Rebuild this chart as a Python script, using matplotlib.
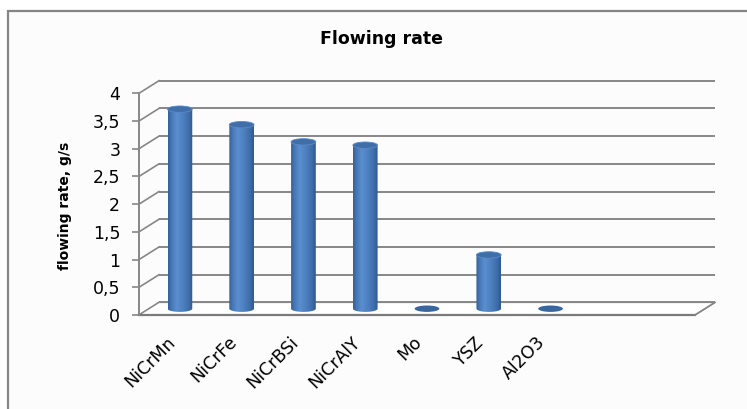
import matplotlib
matplotlib.use("Agg")
import matplotlib.pyplot as plt
import matplotlib.patches as patches
import matplotlib.transforms as mtransforms
from matplotlib.path import Path
from matplotlib.colors import LinearSegmentedColormap
import numpy as np

# powder flowing rate per material, g/s (two empty slots at the end)
materials = ["NiCrMn", "NiCrFe", "NiCrBSi", "NiCrAlY", "Mo", "YSZ", "Al2O3", "", ""]
flow_rate = [3.6, 3.32, 3.01, 2.95, 0, 0.97, 0]
y_ticks = [0, 0.5, 1, 1.5, 2, 2.5, 3, 3.5, 4]
y_tick_labels = ["0", "0,5", "1", "1,5", "2", "2,5", "3", "3,5", "4"]

W, H, DPI = 747, 409, 100
GRID = "#878787"

fig = plt.figure(figsize=(W / DPI, H / DPI), dpi=DPI)
fig.patch.set_facecolor("white")

# chart frame (runs off the right and bottom edges)
frame = patches.Rectangle((7.5 / W, -0.05), 1.2, 1 - 10.5 / H + 0.05,
                          transform=fig.transFigure, facecolor="#FCFCFC",
                          edgecolor="#858585", linewidth=1.6, zorder=0)
fig.add_artist(frame)

# axes = front plane of the 3d box
ax = fig.add_axes([139 / W, (H - 315) / H, 556 / W, (315 - 93.3) / H])
ax.patch.set_visible(False)
n_slots = len(materials)
ax.set_xlim(0, n_slots)
ax.set_ylim(0, 4)

# depth of the box in data units (20 px right, 12.6 px up)
px_x = 556 / n_slots
px_y = (315 - 93.3) / 4
ddx = 20 / px_x
ddy = 12.6 / px_y

# back wall grid and side wall diagonals
for v in y_ticks:
    ax.plot([ddx, n_slots + ddx], [v + ddy, v + ddy], color=GRID, lw=1.4,
            clip_on=False, zorder=1, solid_capstyle="butt")
    ax.plot([0, ddx], [v, v + ddy], color=GRID, lw=1.2, clip_on=False, zorder=1)

# floor
floor = patches.Polygon([(0, 0), (n_slots, 0), (n_slots + ddx, ddy), (ddx, ddy)],
                        closed=True, facecolor="white", edgecolor=GRID, lw=1.0,
                        clip_on=False, zorder=1.5)
ax.add_patch(floor)
ax.plot([0, n_slots], [0, 0], color="#7A7A7A", lw=1.6, clip_on=False, zorder=2)
ax.plot([n_slots, n_slots + ddx], [0, ddy], color=GRID, lw=1.2, clip_on=False, zorder=2)

# cylinder shading across the width
cyl_cmap = LinearSegmentedColormap.from_list(
    "cyl", [(0.0, "#34609A"), (0.15, "#4878B6"), (0.35, "#5A8ED0"),
            (0.6, "#4E80BF"), (0.85, "#3E6CA8"), (1.0, "#2F5990")])
grad = np.linspace(0, 1, 256).reshape(1, -1)

r = 0.2                 # half width in data units
ry = 3.2 / px_y         # half height of the end ellipses
yb = ddy / 2            # base sits mid-depth

for i, v in enumerate(flow_rate):
    xc = i + 0.5 + ddx / 2
    if v > 0:
        t = np.linspace(np.pi, 2 * np.pi, 40)
        verts = [(xc - r, yb + v), (xc - r, yb)]
        verts += list(zip(xc + r * np.cos(t), yb + ry * np.sin(t)))
        verts += [(xc + r, yb + v), (xc - r, yb + v)]
        codes = [Path.MOVETO] + [Path.LINETO] * (len(verts) - 2) + [Path.CLOSEPOLY]
        body = patches.PathPatch(Path(verts, codes), facecolor="none",
                                 edgecolor="none", zorder=3)
        ax.add_patch(body)
        im = ax.imshow(grad, cmap=cyl_cmap, aspect="auto", zorder=3,
                       extent=(xc - r, xc + r, yb - ry, yb + v),
                       interpolation="bilinear")
        im.set_clip_path(body)
        top = patches.Ellipse((xc, yb + v), 2 * r, 2 * ry, facecolor="#3F6EA8",
                              edgecolor="#5B8AC6", lw=0.6, zorder=4)
        ax.add_patch(top)
    else:
        flat = patches.Ellipse((xc, yb), 2 * r, 2 * ry, facecolor="#3A659D",
                               edgecolor="none", zorder=4)
        ax.add_patch(flat)

ax.set_xlim(0, n_slots)
ax.set_ylim(0, 4)

# axes, ticks and labels
for side in ["top", "right", "bottom"]:
    ax.spines[side].set_visible(False)
ax.spines["left"].set_color(GRID)
ax.spines["left"].set_linewidth(1.4)
ax.spines["left"].set_zorder(2)

ax.set_yticks(y_ticks, y_tick_labels)
ax.tick_params(axis="y", direction="out", length=5, width=1.2, color=GRID,
               pad=8.5, labelsize=12.5, labelcolor="black")
ax.set_xticks(np.arange(n_slots) + 0.5, materials, rotation=45, ha="right",
              rotation_mode="anchor")
ax.tick_params(axis="x", length=0, pad=13, labelsize=12.5, labelcolor="black")
shift = mtransforms.ScaledTranslation(-4 / DPI, 0, fig.dpi_scale_trans)
for lab in ax.get_xticklabels():
    lab.set_transform(lab.get_transform() + shift)

fig.text(65 / W, 1 - 206 / H, "flowing rate, g/s", rotation=90, ha="center",
         va="center", fontsize=10, fontweight="bold")
fig.text(381 / W, 1 - 39 / H, "Flowing rate", ha="center", va="center",
         fontsize=12.5, fontweight="bold")

fig.savefig("out.png", dpi=DPI)
